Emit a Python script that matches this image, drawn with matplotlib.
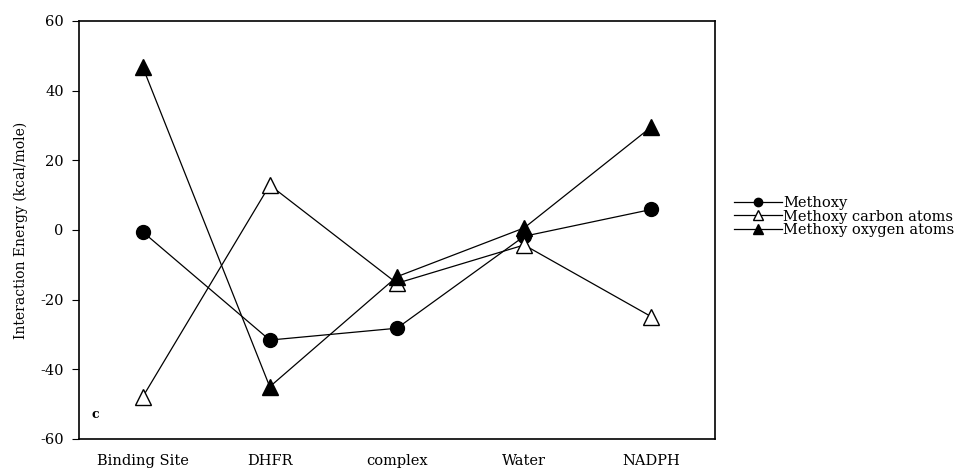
import matplotlib
matplotlib.use('Agg')
import matplotlib.pyplot as plt

categories = ['Binding Site', 'DHFR', 'complex', 'Water', 'NADPH']
methoxy = [-0.5, -31.6, -28.2, -1.8, 5.9]
methoxy_carbon = [-48.0, 12.9, -15.3, -4.3, -24.9]
methoxy_oxygen = [46.9, -45.0, -13.4, 0.6, 29.6]

plt.rcParams['font.family'] = ['DejaVu Serif', 'Liberation Serif']
plt.rcParams['axes.unicode_minus'] = False

fig = plt.figure(figsize=(9.7, 4.75), dpi=100)
ax = fig.add_axes([0.0814, 0.0758, 0.6557, 0.88])

x = list(range(len(categories)))
l1, = ax.plot(x, methoxy, 'k-', lw=0.9, marker='o', ms=10, mfc='black', mec='black')
l2, = ax.plot(x, methoxy_carbon, 'k-', lw=0.9, marker='^', ms=11, mfc='white', mec='black')
l3, = ax.plot(x, methoxy_oxygen, 'k-', lw=0.9, marker='^', ms=11, mfc='black', mec='black')

ax.set_xlim(-0.5, 4.5)
ax.set_ylim(-60, 60)
ax.set_yticks(range(-60, 61, 20))
ax.set_xticks(x)
ax.set_xticklabels(categories, fontsize=10.5)
ax.tick_params(axis='x', length=0, pad=11)
ax.tick_params(axis='y', length=5, direction='out', labelsize=10.5, pad=6)
for s in ax.spines.values():
    s.set_linewidth(1.2)
ax.set_ylabel('Interaction Energy (kcal/mole)', fontsize=10, labelpad=9)

ax.text(-0.37, -53, 'c', fontsize=9, fontweight='bold', ha='center', va='center')

fig.legend([l1, l2, l3], ['Methoxy', 'Methoxy carbon atoms', 'Methoxy oxygen atoms'],
           loc='center left', bbox_to_anchor=(0.743, 0.544), frameon=False,
           fontsize=10.5, markerscale=0.6, handlelength=3.3, handletextpad=0.1,
           labelspacing=-0.05)

fig.savefig('out.png', dpi=100)
